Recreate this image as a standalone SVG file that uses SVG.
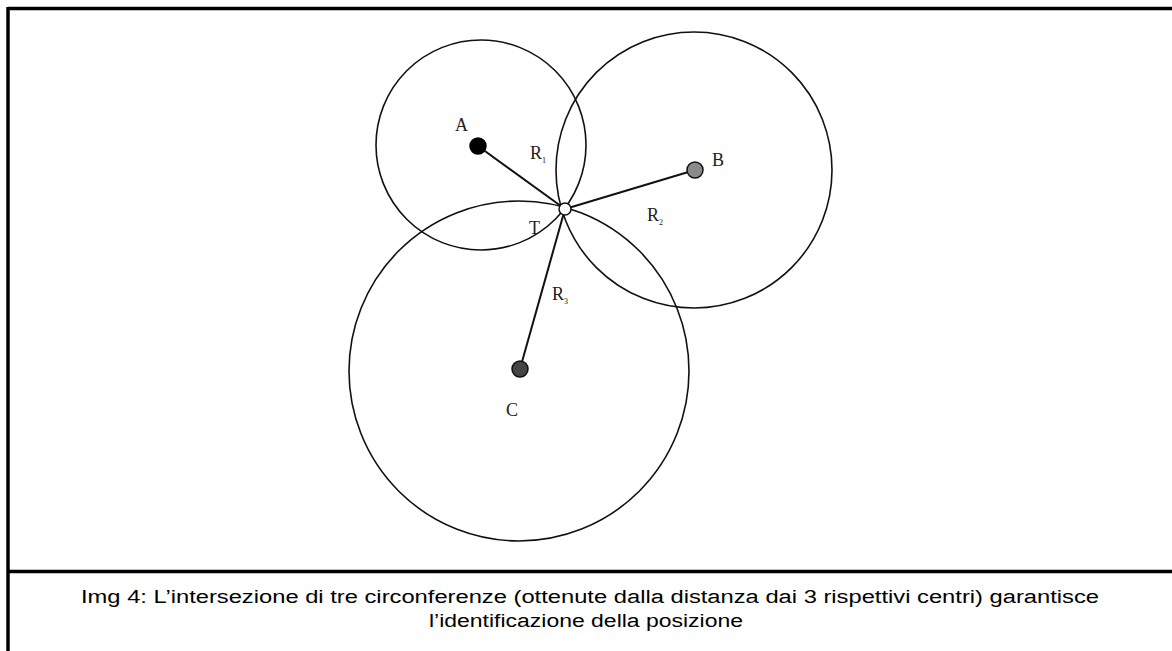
<svg xmlns="http://www.w3.org/2000/svg" width="1172" height="651" viewBox="0 0 1172 651">
<style>
.frame{stroke:#000;stroke-width:3.5;fill:none}
.circ{stroke:#111;stroke-width:1.6;fill:none}
.ln{stroke:#111;stroke-width:2}
.lbl{font-family:"Liberation Serif",serif;font-size:18px;fill:#222}
.sub{font-family:"Liberation Serif",serif;font-size:8px;fill:#222}
.cap{font-family:"Liberation Sans",Arial,sans-serif;font-size:18px;fill:#000;text-anchor:middle}
</style>
<rect width="1172" height="651" fill="#fff"/>
<g id="frame">
<line class="frame" x1="8" y1="8.5" x2="1172" y2="8.5"/>
<line class="frame" x1="8" y1="7" x2="8" y2="651"/>
<line class="frame" x1="8" y1="571.5" x2="1172" y2="571.5"/>
</g>
<g id="circles">
<circle class="circ" cx="481" cy="145" r="105"/>
<circle class="circ" cx="694" cy="170" r="138"/>
<circle class="circ" cx="519" cy="371" r="170"/>
</g>
<g id="connectors">
<line class="ln" x1="478" y1="146" x2="565" y2="209"/>
<line class="ln" x1="695" y1="170" x2="565" y2="209"/>
<line class="ln" x1="520" y1="369" x2="565" y2="209"/>
</g>
<g id="node-A"><circle cx="478" cy="146" r="8" fill="#000" stroke="#000" stroke-width="1.5"/><text class="lbl" x="455" y="131">A</text></g>
<g id="node-B"><circle cx="695" cy="170" r="8" fill="#8a8a8a" stroke="#111" stroke-width="1.5"/><text class="lbl" x="712" y="166">B</text></g>
<g id="node-C"><circle cx="520" cy="369" r="8" fill="#444" stroke="#111" stroke-width="1.5"/><text class="lbl" x="506" y="416">C</text></g>
<g id="node-T"><circle cx="565" cy="209" r="6" fill="#fff" stroke="#111" stroke-width="1.5"/><text class="lbl" x="529" y="234">T</text></g>
<g id="labels">
<text class="lbl" x="530" y="159">R<tspan class="sub" dy="4">1</tspan></text>
<text class="lbl" x="647" y="221">R<tspan class="sub" dy="4">2</tspan></text>
<text class="lbl" x="552" y="300">R<tspan class="sub" dy="4">3</tspan></text>
</g>
<g id="caption">
<text class="cap" x="590" y="603" textLength="1018" lengthAdjust="spacingAndGlyphs">Img 4: L’intersezione di tre circonferenze (ottenute dalla distanza dai 3 rispettivi centri) garantisce</text>
<text class="cap" x="586" y="627" textLength="314" lengthAdjust="spacingAndGlyphs">l’identificazione della posizione</text>
</g>
</svg>
